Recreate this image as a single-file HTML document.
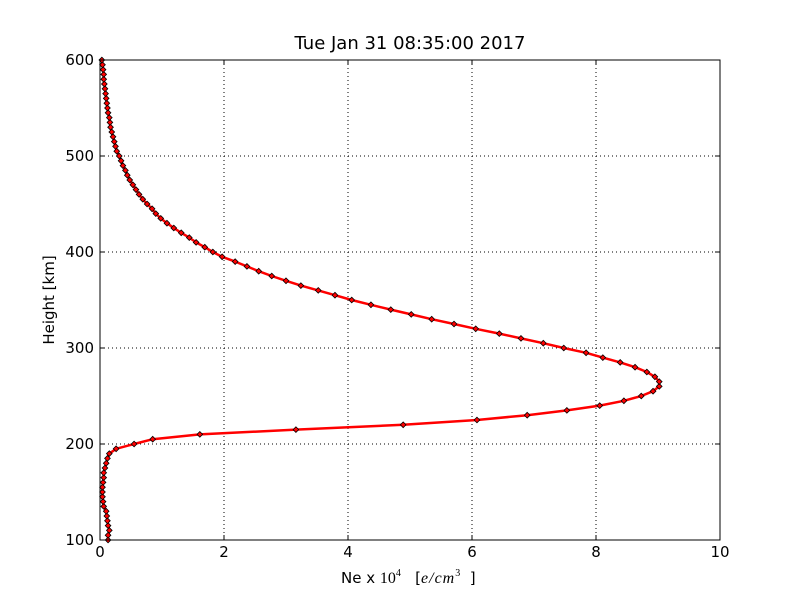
<!DOCTYPE html>
<html><head><meta charset="utf-8"><style>
body{margin:0;background:#fff;}
svg{display:block;font-family:"DejaVu Sans","Liberation Sans",sans-serif;}
</style></head><body>
<svg id="chart" width="800" height="600">
<rect width="800" height="600" fill="#fff"/>
<text x="410" y="49" font-size="18" text-anchor="middle">Tue Jan 31 08:35:00 2017</text>
<g id="grid"></g>
<g id="series"></g>
<rect x="100" y="60" width="620" height="480" fill="none" stroke="#000" stroke-width="1"/>
<g id="ticks"></g>
<text x="341" y="583" font-size="15">Ne x <tspan font-family="Liberation Serif,serif" font-size="16">10</tspan><tspan font-family="Liberation Serif,serif" font-size="10" dy="-7">4</tspan><tspan dy="7" xml:space="preserve">   [</tspan><tspan font-family="Liberation Serif,serif" font-style="italic" font-size="16" letter-spacing="1">e/cm</tspan><tspan font-family="Liberation Serif,serif" font-size="10" dy="-7">3</tspan><tspan dy="7" xml:space="preserve">  ]</tspan></text>
<text transform="translate(54,300) rotate(-90)" font-size="15" text-anchor="middle">Height [km]</text>
</svg>
<script>
const heights=[100,105,110,115,120,125,130,135,140,145,150,155,160,165,170,175,180,185,190,195,200,205,210,215,220,225,230,235,240,245,250,255,260,265,270,275,280,285,290,295,300,305,310,315,320,325,330,335,340,345,350,355,360,365,370,375,380,385,390,395,400,405,410,415,420,425,430,435,440,445,450,455,460,465,470,475,480,485,490,495,500,505,510,515,520,525,530,535,540,545,550,555,560,565,570,575,580,585,590,595,600];
const density=[0.13,0.13,0.15,0.13,0.12,0.11,0.10,0.06,0.05,0.04,0.04,0.04,0.05,0.06,0.06,0.08,0.10,0.12,0.15,0.26,0.55,0.85,1.61,3.16,4.89,6.08,6.89,7.53,8.06,8.45,8.73,8.92,9.02,9.02,8.95,8.82,8.63,8.39,8.11,7.84,7.48,7.15,6.79,6.44,6.06,5.71,5.35,5.02,4.69,4.37,4.06,3.79,3.52,3.24,3.0,2.77,2.56,2.37,2.18,1.97,1.82,1.69,1.55,1.44,1.31,1.19,1.08,0.98,0.90,0.84,0.76,0.69,0.63,0.58,0.53,0.48,0.44,0.41,0.37,0.34,0.31,0.27,0.25,0.23,0.21,0.19,0.17,0.16,0.15,0.13,0.12,0.11,0.10,0.09,0.08,0.07,0.06,0.06,0.05,0.04,0.03];
const xTicks=[0,2,4,6,8,10];
const yTicks=[100,200,300,400,500,600];
const NS='http://www.w3.org/2000/svg';
function xs(v){return 100+v/10*620;}
function ys(h){return 540-(h-100)/500*480;}
function mk(t,a,p){const e=document.createElementNS(NS,t);for(const k in a)e.setAttribute(k,a[k]);p.appendChild(e);return e;}
const grid=document.getElementById('grid'),ticks=document.getElementById('ticks'),ser=document.getElementById('series');
xTicks.forEach(v=>{
 const x=xs(v);
 if(v>0&&v<10){const g=mk('line',{x1:x,x2:x,y1:60,y2:540,stroke:'#000','stroke-dasharray':'1,3','stroke-width':1},grid);
 
 }
 const t1=mk('line',{x1:x,x2:x,y1:540,y2:535,stroke:'#000'},ticks);
 
 
 const t2=mk('line',{x1:x,x2:x,y1:60,y2:65,stroke:'#000'},ticks);
 
 
 const l=mk('text',{x:x,y:557,'font-size':15,'text-anchor':'middle'},ticks);l.textContent=v;
 
 
});
yTicks.forEach(v=>{
 const y=ys(v);
 if(v>100&&v<600){const g=mk('line',{x1:100,x2:720,y1:y,y2:y,stroke:'#000','stroke-dasharray':'1,3','stroke-width':1},grid);
 
 }
 const t1=mk('line',{x1:100,x2:105,y1:y,y2:y,stroke:'#000'},ticks);
 
 
 const t2=mk('line',{x1:715,x2:720,y1:y,y2:y,stroke:'#000'},ticks);
 
 
 const l=mk('text',{x:94,y:y+5,'font-size':15,'text-anchor':'end'},ticks);l.textContent=v;
 
 
});
const pts=heights.map((h,i)=>xs(density[i]).toFixed(1)+','+ys(h).toFixed(1)).join(' ');
const pl=mk('polyline',{points:pts,fill:'none',stroke:'#ff0000','stroke-width':2.5,'stroke-linejoin':'round'},ser);


heights.forEach((h,i)=>{
 const c=mk('rect',{x:xs(density[i])-2,y:ys(h)-2,width:4,height:4,fill:'#ff0000',stroke:'#000','stroke-width':0.8,transform:'rotate(45 '+xs(density[i])+' '+ys(h)+')'},ser);
 
 
});
</script>
</body></html>
